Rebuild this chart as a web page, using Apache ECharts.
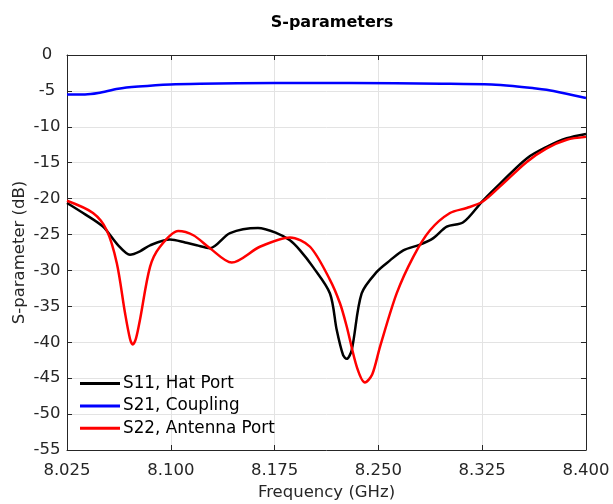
<!DOCTYPE html>
<html><head><meta charset="utf-8">
<script src="https://cdn.jsdelivr.net/npm/echarts@6/dist/echarts.min.js"></script>
<style>html,body{margin:0;padding:0;background:#fff}#c{width:613px;height:504px}</style>
</head><body><div id="c"></div>
<script>
const xTicks = [8.025, 8.100, 8.175, 8.250, 8.325, 8.400];
const yTicks = [0, -5, -10, -15, -20, -25, -30, -35, -40, -45, -50, -55];

const s11Freq = [8.025,8.0366,8.051,8.062,8.0705,8.078,8.085,8.0994,8.1103,8.1187,8.1283,8.1428,8.163,8.1765,8.1861,8.1934,8.2027,8.215,8.2199,8.2245,8.2271,8.2307,8.2379,8.2488,8.2584,8.268,8.2801,8.2897,8.2994,8.3113,8.3254,8.3379,8.3572,8.3716,8.3861,8.400];
const s11Val  = [-20.6,-22.0,-23.9,-26.5,-27.8,-27.3,-26.5,-25.7,-26.1,-26.5,-26.9,-24.8,-24.1,-24.8,-25.8,-27.2,-29.5,-33.2,-38.3,-41.8,-42.3,-41.1,-33.2,-30.2,-28.6,-27.2,-26.4,-25.5,-23.9,-23.3,-20.3,-17.9,-14.4,-12.8,-11.6,-11.0];

const s21Freq = [8.025,8.038,8.0475,8.062,8.0765,8.0995,8.1212,8.175,8.2293,8.2957,8.3318,8.3471,8.3614,8.3765,8.400];
const s21Val  = [-5.5,-5.5,-5.3,-4.7,-4.4,-4.1,-4.0,-3.9,-3.9,-4.0,-4.1,-4.3,-4.6,-5.0,-6.0];

const s22Freq = [8.025,8.0438,8.0537,8.061,8.0669,8.0705,8.0725,8.0748,8.0777,8.085,8.0922,8.1054,8.1163,8.1283,8.144,8.1644,8.1861,8.2006,8.215,8.2223,8.2271,8.2345,8.2403,8.2455,8.2512,8.2632,8.2752,8.2873,8.3017,8.3138,8.3254,8.3379,8.3572,8.3716,8.3861,8.400];
const s22Val  = [-20.3,-22.0,-24.4,-29.0,-35.9,-39.5,-40.3,-39.5,-36.9,-29.5,-26.7,-24.5,-25.1,-26.9,-28.9,-26.7,-25.4,-26.7,-31.3,-34.6,-37.8,-43.5,-45.6,-44.5,-40.6,-33.2,-28.1,-24.4,-22.0,-21.3,-20.4,-18.3,-14.9,-13.0,-11.8,-11.4];

const zip = (a, b) => a.map((v, i) => [v, b[i]]);
const FONT = '"DejaVu Sans", sans-serif';
const axisCol = '#262626';

const chart = echarts.init(document.getElementById('c'));
const baseX = {
  type: 'value', min: 8.025, max: 8.400, interval: 0.075,
  axisLine: {show: true, onZero: false, lineStyle: {color: axisCol, width: 1}},
  axisTick: {show: true, inside: true, length: 5, lineStyle: {color: axisCol}},
  splitLine: {show: false},
};
const baseY = {
  type: 'value', min: -55, max: 0, interval: 5,
  axisLine: {show: true, onZero: false, lineStyle: {color: axisCol, width: 1}},
  axisTick: {show: true, inside: true, length: 5, lineStyle: {color: axisCol}},
  splitLine: {show: false},
};
chart.setOption({
  animation: false,
  backgroundColor: '#fff',
  title: {text: 'S-parameters', left: 327, top: 10, textAlign: 'center',
    textStyle: {fontFamily: FONT, fontSize: 16, fontWeight: 'bold', color: '#000'}},
  grid: {left: 67, right: 27, top: 55, bottom: 54, containLabel: false, outerBoundsMode: 'none'},
  legend: {
    orient: 'vertical', left: 80, top: 373.5, padding: 0,
    itemWidth: 40, itemHeight: 3, itemGap: 2.4,
    icon: 'rect',
    textStyle: {fontFamily: FONT, fontSize: 16.8, lineHeight: 20, color: '#000', padding: [0, 0, 0, -2]},
    data: ['S11, Hat Port', 'S21, Coupling', 'S22, Antenna Port']
  },
  xAxis: [
    Object.assign({}, baseX, {
      position: 'bottom',
      name: 'Frequency (GHz)', nameLocation: 'middle', nameGap: 31,
      nameTextStyle: {fontFamily: FONT, fontSize: 16.5, color: axisCol},
      axisLabel: {fontFamily: FONT, fontSize: 16.5, color: axisCol, margin: 12,
        formatter: v => xTicks.find(t => Math.abs(t - v) < 1e-6)?.toFixed(3) ?? ''},
      splitLine: {show: true, lineStyle: {color: '#e3e3e3', width: 1}}
    }),
    Object.assign({}, baseX, {position: 'top', axisLabel: {show: false}})
  ],
  yAxis: [
    Object.assign({}, baseY, {
      position: 'left',
      name: 'S-parameter (dB)', nameLocation: 'middle', nameGap: 39, nameRotate: 90,
      nameMoveOverlap: false,
      nameTextStyle: {fontFamily: FONT, fontSize: 16.5, color: axisCol},
      axisLabel: {fontFamily: FONT, fontSize: 16.5, color: axisCol, margin: 20, align: 'center',
        formatter: v => String(yTicks.find(t => Math.abs(t - v) < 1e-6) ?? '')},
      splitLine: {show: true, lineStyle: {color: '#e3e3e3', width: 1}}
    }),
    Object.assign({}, baseY, {position: 'right', axisLabel: {show: false}})
  ],
  series: [
    {name: 'S11, Hat Port', type: 'line', data: zip(s11Freq, s11Val), smooth: 0.3, showSymbol: false,
      lineStyle: {color: '#000', width: 2.5}, itemStyle: {color: '#000'}},
    {name: 'S21, Coupling', type: 'line', data: zip(s21Freq, s21Val), smooth: 0.3, showSymbol: false,
      lineStyle: {color: '#0000ff', width: 2.5}, itemStyle: {color: '#0000ff'}},
    {name: 'S22, Antenna Port', type: 'line', data: zip(s22Freq, s22Val), smooth: 0.3, showSymbol: false,
      lineStyle: {color: '#ff0000', width: 2.5}, itemStyle: {color: '#ff0000'}}
  ]
});
</script></body></html>
